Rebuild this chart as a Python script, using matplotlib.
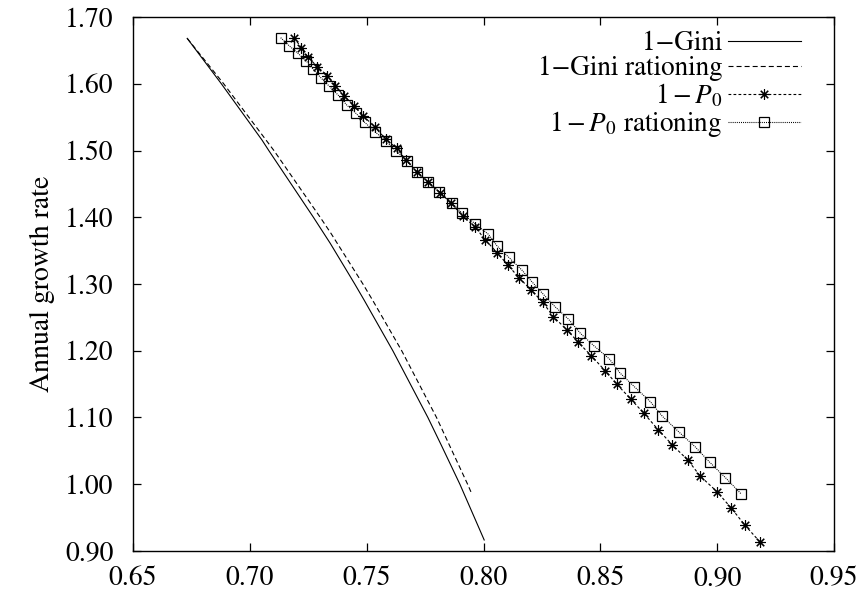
import matplotlib
matplotlib.use("Agg")
import matplotlib.pyplot as plt

plt.rcParams['font.family'] = ['STIXGeneral', 'DejaVu Serif']
plt.rcParams['mathtext.fontset'] = 'stix'
plt.rcParams['lines.scale_dashes'] = False

# 1-Gini (solid)
gini_y = [1.668, 1.60, 1.5157, 1.50, 1.40, 1.361, 1.30, 1.276, 1.20, 1.10, 1.0588, 1.00, 0.9165]
gini_x = [0.6732, 0.6878, 0.7052, 0.7081, 0.7272, 0.7344, 0.7449, 0.7489, 0.7612, 0.7762,
          0.7819, 0.7899, 0.8003]
# 1-Gini rationing (dashed)
ginir_y = [1.668, 1.60, 1.50, 1.40, 1.376, 1.30, 1.276, 1.20, 1.10, 1.00, 0.9864]
ginir_x = [0.6732, 0.6888, 0.7103, 0.7301, 0.7347, 0.7484, 0.7525, 0.7650, 0.7799, 0.7932,
           0.7949]

# 1 - P0 (stars)
p0_x = [0.7189, 0.7221, 0.7247, 0.7289, 0.7332, 0.7365, 0.7403, 0.7446, 0.7485, 0.7535,
        0.7582, 0.7629, 0.7668, 0.7715, 0.7763, 0.7814, 0.7861, 0.7911, 0.7965, 0.8008,
        0.8058, 0.8104, 0.8153, 0.8204, 0.8254, 0.8299, 0.8358, 0.8406, 0.8461, 0.8521,
        0.8570, 0.8632, 0.8687, 0.8747, 0.8808, 0.8875, 0.8928, 0.8999, 0.9061, 0.9118,
        0.9182]
p0_y = [1.669, 1.654, 1.6405, 1.6255, 1.612, 1.597, 1.582, 1.567, 1.552, 1.535,
        1.517, 1.503, 1.486, 1.468, 1.453, 1.437, 1.421, 1.402, 1.385, 1.366,
        1.347, 1.3285, 1.309, 1.291, 1.2725, 1.251, 1.231, 1.2125, 1.1925, 1.170,
        1.150, 1.127, 1.106, 1.082, 1.059, 1.036, 1.012, 0.989, 0.964, 0.939,
        0.914]

# 1 - P0 rationing (squares)
p0r_x = [0.7132, 0.7168, 0.7206, 0.7242, 0.7271, 0.7304, 0.7339, 0.7378, 0.7415, 0.7454,
         0.7492, 0.7536, 0.7582, 0.7625, 0.7672, 0.7715, 0.7761, 0.7811, 0.7864, 0.7908,
         0.7965, 0.8021, 0.8058, 0.8108, 0.8164, 0.8207, 0.8256, 0.8306, 0.8363, 0.8415,
         0.8472, 0.8539, 0.8584, 0.8646, 0.8714, 0.8765, 0.8835, 0.8906, 0.8968, 0.9035,
         0.9104]
p0r_y = [1.669, 1.657, 1.6456, 1.634, 1.6216, 1.609, 1.5966, 1.583, 1.568, 1.5557,
         1.542, 1.528, 1.514, 1.4997, 1.4847, 1.468, 1.453, 1.438, 1.422, 1.406,
         1.390, 1.3745, 1.357, 1.340, 1.321, 1.3034, 1.2846, 1.266, 1.2476, 1.226,
         1.2076, 1.1876, 1.1667, 1.146, 1.1237, 1.102, 1.0787, 1.056, 1.033, 1.010,
         0.985]

xticks = [0.65, 0.70, 0.75, 0.80, 0.85, 0.90, 0.95]
yticks = [0.90, 1.00, 1.10, 1.20, 1.30, 1.40, 1.50, 1.60, 1.70]

fig = plt.figure(figsize=(8.61, 5.95), dpi=100)
ax = fig.add_axes([133/861, 1 - 551/595, 701/861, 534/595])

ax.plot(gini_x, gini_y, color='black', lw=0.8, ls='-', label='1\u2212Gini')
ax.plot(ginir_x, ginir_y, color='black', lw=0.8, dashes=(3.6, 2.2), label='1\u2212Gini rationing')
ax.plot(p0_x, p0_y, color='black', lw=0.8, dashes=(2.0, 1.6), marker=(8, 2, 0), ms=7.5,
        mew=0.8, label='$1-P_0$')
ax.plot(p0r_x, p0r_y, color='black', lw=0.8, dashes=(0.7, 0.8), marker='s', ms=6.5,
        mfc='none', mec='black', mew=0.9, label='$1-P_0$ rationing')

ax.set_xlim(0.65, 0.95)
ax.set_ylim(0.90, 1.70)
ax.set_xticks(xticks)
ax.set_yticks(yticks)
ax.set_xticklabels([f'{v:.2f}' for v in xticks])
ax.set_yticklabels([f'{v:.2f}' for v in yticks])
ax.tick_params(direction='in', length=6, width=0.9, top=True, right=True, labelsize=20)
ax.tick_params(axis='x', pad=11)
ax.tick_params(axis='y', pad=14)
for s in ax.spines.values():
    s.set_linewidth(1.0)
ax.set_ylabel('Annual growth rate', fontsize=20, labelpad=7)

leg = ax.legend(loc='upper right', bbox_to_anchor=((801 - 133) / 701, 1 - (31 - 17) / 534),
                frameon=False, markerfirst=False, fontsize=19.5, handlelength=2.7,
                handletextpad=0.2, labelspacing=0.0, borderpad=0, borderaxespad=0,
                numpoints=1)

fig.savefig('out.png', dpi=100)
